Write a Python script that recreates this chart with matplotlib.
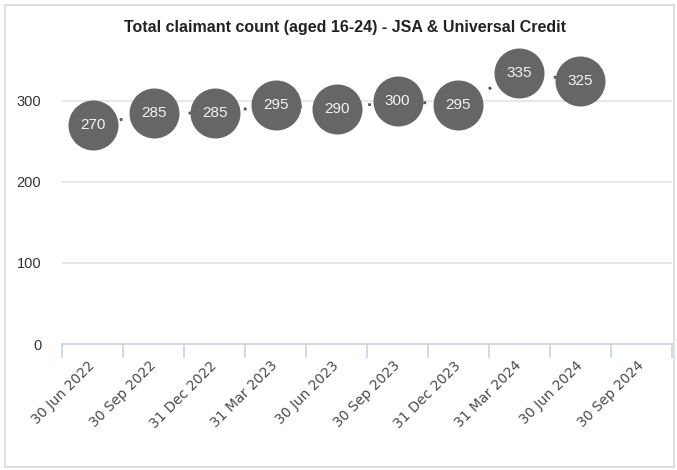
import matplotlib
matplotlib.use("Agg")
import matplotlib.pyplot as plt
from matplotlib.patches import Rectangle
import numpy as np

# data
dates = ["30 Jun 2022", "30 Sep 2022", "31 Dec 2022", "31 Mar 2023", "30 Jun 2023",
         "30 Sep 2023", "31 Dec 2023", "31 Mar 2024", "30 Jun 2024", "30 Sep 2024"]
counts = [270, 285, 285, 295, 290, 300, 295, 335, 325]
y_ticks = [0, 100, 200, 300]

plt.rcParams['font.family'] = ['Liberation Sans', 'DejaVu Sans']
fig = plt.figure(figsize=(6.77, 4.70), dpi=100)

# light frame round the whole chart
fig.patches.append(Rectangle((0.008, 0.006), 0.988, 0.983, transform=fig.transFigure,
                             fill=False, edgecolor="#d9d9d9", linewidth=1.2))

ax = fig.add_axes([0.0916, 0.268, 0.901, 0.638])
x = np.arange(len(counts))
ax.plot(x, counts, linestyle=(0, (1, 4)), color="#555555", linewidth=2, zorder=2)
ax.plot(x, counts, linestyle="none", marker="o", markersize=35,
        markerfacecolor="#666666", markeredgecolor="#666666", zorder=3)
for xi, v in zip(x, counts):
    ax.text(xi, v, str(v), color="#f4f4f4", fontsize=11, ha="center", va="center", zorder=4)

ax.set_xlim(-0.5, len(dates) - 0.5)
ax.set_ylim(0, 370)
ax.set_yticks(y_ticks)
ax.set_yticklabels([str(t) for t in y_ticks], fontsize=10.5, color="#333333")
ax.tick_params(axis="y", length=0, pad=15)

ax.set_xticks(np.arange(len(dates)))
ax.set_xticklabels(dates, rotation=45, ha="right", va="center", rotation_mode="anchor",
                   fontsize=10, color="#4a4a4a")
ax.tick_params(axis="x", which="major", length=0, pad=14, labelfontfamily="DejaVu Sans")
ax.set_xticks(np.arange(len(dates) + 1) - 0.5, minor=True)
ax.tick_params(axis="x", which="minor", length=10, color="#c9d3e6", width=1.2)

for t in y_ticks[1:]:
    ax.axhline(t, color="#e3e3e3", linewidth=1.2, zorder=0)

for s in ["top", "right", "left"]:
    ax.spines[s].set_visible(False)
ax.spines["bottom"].set_color("#c9d3e6")
ax.spines["bottom"].set_linewidth(1.2)

fig.text(0.51, 0.942, "Total claimant count (aged 16-24) - JSA & Universal Credit",
         ha="center", va="center", fontsize=11.5, fontweight="bold", color="#222222")

fig.savefig("out.png", dpi=100)
